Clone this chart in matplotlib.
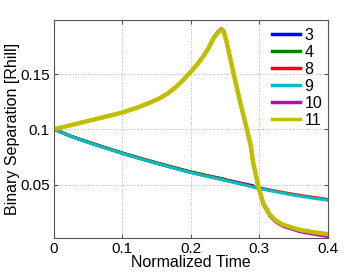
import matplotlib.pyplot as plt

# normalized time / binary separation
t_low = [0, 0.025, 0.043, 0.075, 0.1, 0.125, 0.15, 0.175, 0.2, 0.225, 0.248, 0.275, 0.299, 0.325, 0.35, 0.375, 0.4]
sep_9 = [0.100, 0.0935, 0.0895, 0.0830, 0.0781, 0.0735, 0.0691, 0.0649, 0.0607, 0.0572, 0.0540, 0.0501, 0.0465, 0.0433, 0.0404, 0.0380, 0.0358]
sep_8 = [0.100, 0.0936, 0.0897, 0.0832, 0.0783, 0.0737, 0.0693, 0.0651, 0.0610, 0.0575, 0.0543, 0.0505, 0.0470, 0.0439, 0.0411, 0.0387, 0.0365]

t_3 = [0, 0.025, 0.043, 0.075, 0.1, 0.125, 0.15, 0.175, 0.2, 0.225, 0.248, 0.275, 0.29]
sep_3 = [0.100, 0.0936, 0.0897, 0.0832, 0.0783, 0.0737, 0.0693, 0.0651, 0.0611, 0.0577, 0.0547, 0.0510, 0.0490]
t_4 = [0, 0.025, 0.043, 0.075, 0.1, 0.125, 0.15, 0.175, 0.2, 0.225, 0.25]
sep_4 = [0.100, 0.0937, 0.0899, 0.0834, 0.0786, 0.0741, 0.0697, 0.0656, 0.0615, 0.0580, 0.0547]

t_up = [0, 0.02, 0.043, 0.07, 0.1, 0.12, 0.14, 0.155, 0.165, 0.178, 0.189, 0.2, 0.21, 0.218, 0.226, 0.233, 0.239,
        0.244, 0.248, 0.2524, 0.257, 0.262, 0.272, 0.2817, 0.2875, 0.2914, 0.2987, 0.306, 0.3158,
        0.325, 0.335, 0.3596, 0.38, 0.4]
sep_11 = [0.100, 0.1030, 0.1065, 0.1105, 0.1152, 0.1192, 0.1240, 0.1282, 0.1318, 0.1380, 0.1446, 0.1520, 0.1590, 0.1657, 0.1735, 0.1820, 0.1870,
          0.1900, 0.1885, 0.1790, 0.1660, 0.1520, 0.1250, 0.1010, 0.0858, 0.0693, 0.0481, 0.0331, 0.0225,
          0.0170, 0.0135, 0.0089, 0.0068, 0.0051]
sep_10 = [0.100, 0.1030, 0.1065, 0.1105, 0.1152, 0.1192, 0.1240, 0.1282, 0.1318, 0.1380, 0.1446, 0.1520, 0.1590, 0.1657, 0.1735, 0.1825, 0.1880,
          0.1910, 0.1895, 0.1800, 0.1665, 0.1520, 0.1245, 0.1000, 0.0845, 0.0680, 0.0468, 0.0318, 0.0212,
          0.0157, 0.0121, 0.0073, 0.0050, 0.0029]

x_ticks = [0, 0.1, 0.2, 0.3, 0.4]
y_ticks = [0.05, 0.1, 0.15]

plt.rcParams['font.family'] = ['Liberation Sans', 'DejaVu Sans']

fig = plt.figure(figsize=(3.62, 2.75), dpi=100)
ax = fig.add_axes([0.149, 0.135, 0.756, 0.792])

lw = 2.2
ax.plot(t_3, sep_3, color=(0, 0, 1), lw=lw, label='3')
ax.plot(t_4, sep_4, color=(0, 0.5, 0), lw=lw, label='4')
ax.plot(t_low, sep_8, color=(1, 0, 0), lw=lw, label='8')
ax.plot(t_low, sep_9, color=(0, 0.75, 0.75), lw=lw, label='9')
ax.plot(t_up, sep_10, color=(0.75, 0, 0.75), lw=lw, label='10')
ax.plot(t_up, sep_11, color=(0.75, 0.75, 0), lw=3.2, label='11')

ax.set_xlim(0, 0.4)
ax.set_ylim(0.0017, 0.1988)
ax.set_xticks(x_ticks)
ax.set_xticklabels(['0', '0.1', '0.2', '0.3', '0.4'])
ax.set_yticks(y_ticks)
ax.set_yticklabels(['0.05', '0.1', '0.15'])
ax.tick_params(direction='in', labelsize=11, length=3, right=True, top=True, pad=3,
               color='#555555')
ax.grid(True, linestyle=':', color='#bbbbbb', linewidth=0.7)
for s in ['left', 'right', 'bottom', 'top']:
    ax.spines[s].set_color('#555555')

ax.set_xlabel('Normalized Time', fontsize=11.5, labelpad=-0.5)
ax.set_ylabel('Binary Separation [Rhill]', fontsize=11.5, labelpad=0)

leg = ax.legend(loc='upper right', frameon=False, fontsize=11.5, handlelength=1.75,
                handletextpad=0.3, labelspacing=0.12, borderaxespad=0.1,
                bbox_to_anchor=(1.01, 1.0))
for line in leg.get_lines():
    line.set_linewidth(2.5)

fig.savefig('out.png', dpi=100)
